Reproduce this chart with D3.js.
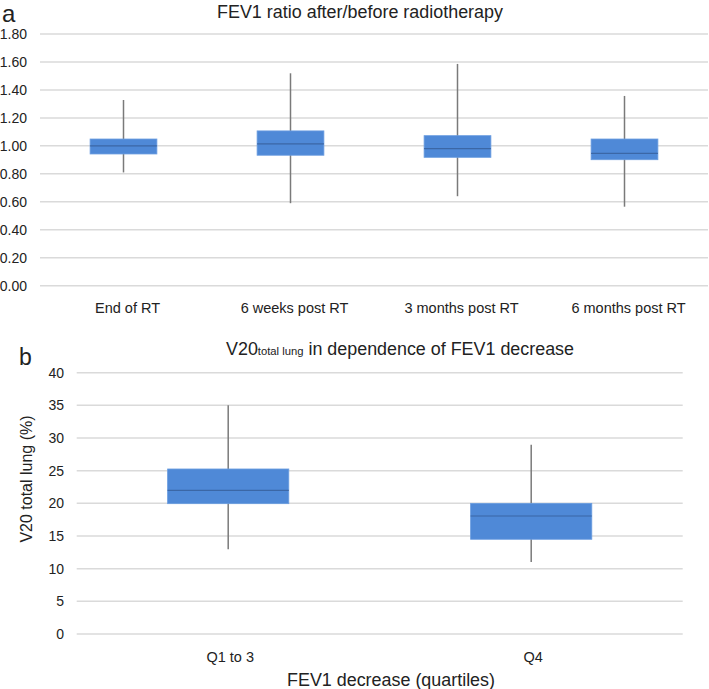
<!DOCTYPE html>
<html>
<head>
<meta charset="utf-8">
<script src="https://cdn.jsdelivr.net/npm/d3@7"></script>
<style>
  html, body { margin: 0; padding: 0; background: #fff; }
  svg { display: block; font-family: "Liberation Sans", Arial, sans-serif; }
</style>
</head>
<body>
<svg id="chart" width="709" height="689"></svg>
<script>
// ---- Panel a data ----
const catsA = ["End of RT", "6 weeks post RT", "3 months post RT", "6 months post RT"];
const minA = [0.81, 0.59, 0.64, 0.565];
const q1A = [0.942, 0.933, 0.918, 0.901];
const medA = [1.00, 1.014, 0.98, 0.947];
const q3A = [1.049, 1.107, 1.073, 1.049];
const maxA = [1.328, 1.519, 1.586, 1.357];
const ticksA = [0, 0.2, 0.4, 0.6, 0.8, 1.0, 1.2, 1.4, 1.6, 1.8];

// ---- Panel b data ----
const catsB = ["Q1 to 3", "Q4"];
const minB = [12.96, 11.02];
const q1B = [19.95, 14.5];
const medB = [22.0, 18.06];
const q3B = [25.26, 20.0];
const maxB = [35.0, 28.98];
const ticksB = [0, 5, 10, 15, 20, 25, 30, 35, 40];

const svg = d3.select("#chart");
const boxFill = "#4f89d7";
const boxStroke = "#6b9de0";
const medColor = "#3b67a6";
const whiskerColor = "#7a7a7a";
const gridColor = "#dadada";
const textColor = "#222";

function drawPanel(cfg) {
  const g = svg.append("g");
  const x = d3.scaleBand().domain(cfg.cats).range(cfg.xRange).paddingInner(0).paddingOuter(0);
  const y = d3.scaleLinear().domain(cfg.yDomain).range(cfg.yRange);

  g.selectAll("line.grid").data(cfg.ticks).enter().append("line")
    .attr("x1", cfg.xRange[0]).attr("x2", cfg.xRange[1])
    .attr("y1", d => y(d)).attr("y2", d => y(d))
    .attr("stroke", gridColor).attr("stroke-width", 1.5);

  g.selectAll("text.ytick").data(cfg.ticks).enter().append("text")
    .attr("x", cfg.tickX).attr("y", d => y(d)).attr("dy", "0.36em")
    .attr("text-anchor", "end").attr("font-size", 14).attr("fill", textColor)
    .text(d => cfg.fmt(d));

  const bw = x.bandwidth() * 0.4;
  const data = cfg.cats.map((c, i) => ({c, min: cfg.min[i], q1: cfg.q1[i], med: cfg.med[i], q3: cfg.q3[i], max: cfg.max[i]}));

  const b = g.selectAll("g.box").data(data).enter().append("g");
  b.append("line")
    .attr("x1", d => x(d.c) + x.bandwidth() / 2).attr("x2", d => x(d.c) + x.bandwidth() / 2)
    .attr("y1", d => y(d.min)).attr("y2", d => y(d.max))
    .attr("stroke", whiskerColor).attr("stroke-width", 1.5);
  b.append("rect")
    .attr("x", d => x(d.c) + x.bandwidth() / 2 - bw / 2)
    .attr("width", bw)
    .attr("y", d => y(d.q3)).attr("height", d => y(d.q1) - y(d.q3))
    .attr("fill", boxFill).attr("stroke", boxStroke).attr("stroke-width", 0.8);
  b.append("line")
    .attr("x1", d => x(d.c) + x.bandwidth() / 2 - bw / 2).attr("x2", d => x(d.c) + x.bandwidth() / 2 + bw / 2)
    .attr("y1", d => y(d.med)).attr("y2", d => y(d.med))
    .attr("stroke", medColor).attr("stroke-width", 1.2);

  g.selectAll("text.xlab").data(cfg.cats).enter().append("text")
    .attr("x", d => x(d) + x.bandwidth() / 2 + cfg.xLabDx).attr("y", cfg.xLabY)
    .attr("text-anchor", "middle").attr("font-size", cfg.xLabSize).attr("fill", textColor)
    .text(d => d);
  return g;
}

drawPanel({
  cats: catsA, min: minA, q1: q1A, med: medA, q3: q3A, max: maxA, ticks: ticksA,
  xRange: [40, 708], yDomain: [0, 1.8], yRange: [285.7, 34],
  tickX: 27, fmt: d3.format(".2f"), xLabDx: 4, xLabY: 313, xLabSize: 14.5
});

drawPanel({
  cats: catsB, min: minB, q1: q1B, med: medB, q3: q3B, max: maxB, ticks: ticksB,
  xRange: [76.7, 682.7], yDomain: [0, 40], yRange: [634, 372.7],
  tickX: 64, fmt: d3.format("d"), xLabDx: 2, xLabY: 662, xLabSize: 14.5
});

svg.append("text").attr("x", 360).attr("y", 17.5).attr("text-anchor", "middle")
  .attr("font-size", 17.5).attr("fill", textColor)
  .attr("textLength", 286).attr("lengthAdjust", "spacingAndGlyphs")
  .text("FEV1 ratio after/before radiotherapy");

const tb = svg.append("text").attr("x", 400).attr("y", 354.5).attr("text-anchor", "middle")
  .attr("font-size", 17.5).attr("fill", textColor)
  .attr("textLength", 348).attr("lengthAdjust", "spacingAndGlyphs");
tb.append("tspan").text("V20");
tb.append("tspan").attr("font-size", 11).text("total lung");
tb.append("tspan").text(" in dependence of FEV1 decrease");

svg.append("text").attr("x", 2).attr("y", 21.5).attr("font-size", 24).attr("fill", textColor).text("a");
svg.append("text").attr("x", 19).attr("y", 365).attr("font-size", 23).attr("fill", textColor).text("b");

svg.append("text").attr("x", 391).attr("y", 686).attr("text-anchor", "middle")
  .attr("font-size", 17.5).attr("fill", textColor)
  .attr("textLength", 208).attr("lengthAdjust", "spacingAndGlyphs")
  .text("FEV1 decrease (quartiles)");

svg.append("text").attr("transform", "translate(32,479) rotate(-90)").attr("text-anchor", "middle")
  .attr("font-size", 16).attr("fill", textColor).text("V20 total lung (%)");
</script>
</body>
</html>
